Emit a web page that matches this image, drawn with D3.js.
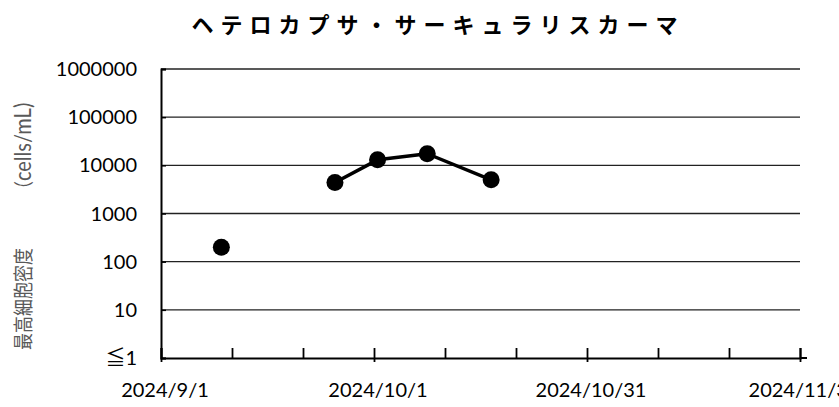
<!DOCTYPE html>
<html lang="ja">
<head>
  <meta charset="UTF-8">
  <title>ヘテロカプサ・サーキュラリスカーマ</title>
  <script src="https://d3js.org/d3.v7.min.js"></script>
  <style>
    body { margin: 0; padding: 0; overflow: hidden; background: #fff; }
    text { font-family: Lato, "Noto Sans CJK JP", sans-serif; }
  </style>
</head>
<body>
  <svg id="chart" width="839" height="407"></svg>

  <script>
    // Data
    const dates = ["2024-09-09", "2024-09-17", "2024-09-25", "2024-10-01", "2024-10-08", "2024-10-17"];
    const cells = [200, null, 4400, 13000, 17400, 5000];
    const yTicks = [1, 10, 100, 1000, 10000, 100000, 1000000];
    const yTickLabels = ["≦1", "10", "100", "1000", "10000", "100000", "1000000"];
    const xLabelDates = ["2024-09-01", "2024-10-01", "2024-10-31", "2024-11-30"];

    const parse = d3.timeParse("%Y-%m-%d");
    const points = dates.map((d, i) => ({ date: parse(d), value: cells[i] }));

    const svg = d3.select("#chart");
    const margin = { left: 161, right: 39, top: 69, bottom: 49 };
    const width = 839, height = 407;

    const x = d3.scaleTime()
      .domain([parse("2024-09-01"), parse("2024-11-30")])
      .range([margin.left, width - margin.right]);
    const y = d3.scaleLog()
      .domain([1, 1000000])
      .range([height - margin.bottom, margin.top]);

    // points sit in the middle of their day
    const px = d => x(d3.timeHour.offset(d.date, 12));

    // title
    svg.append("text")
      .attr("x", 438).attr("y", 33)
      .attr("text-anchor", "middle")
      .style("font-family", "'Noto Sans CJK JP'")
      .style("font-weight", "bold")
      .style("font-size", "22px")
      .style("letter-spacing", "7px")
      .text("ヘテロカプサ・サーキュラリスカーマ");

    // gridlines
    svg.append("g")
      .selectAll("line")
      .data(yTicks.slice(1))
      .join("line")
      .attr("x1", margin.left).attr("x2", width - margin.right)
      .attr("y1", d => y(d)).attr("y2", d => y(d))
      .attr("stroke", "#222")
      .attr("stroke-width", 1.3);

    // y axis
    const yAxis = svg.append("g")
      .attr("transform", `translate(${margin.left},0)`)
      .call(d3.axisRight(y).tickValues(yTicks).tickSize(5).tickFormat(""));
    yAxis.select(".domain").attr("stroke", "#000").attr("stroke-width", 2);
    yAxis.selectAll(".tick line").attr("stroke", "#000").attr("stroke-width", 1.5);

    svg.append("g")
      .selectAll("text")
      .data(yTicks)
      .join("text")
      .attr("x", 137)
      .attr("y", d => y(d) + 7)
      .attr("text-anchor", "end")
      .style("font-size", "20px")
      .attr("fill", "#000")
      .text((d, i) => yTickLabels[i]);

    // x axis: minor ticks every 10 days, labels every 30 days
    const tickDates = d3.timeDay.range(parse("2024-09-01"), d3.timeDay.offset(parse("2024-11-30"), 1), 10);
    const labelTimes = xLabelDates.map(d => +parse(d));
    const xAxis = svg.append("g")
      .attr("transform", `translate(0,${height - margin.bottom})`)
      .call(d3.axisTop(x).tickValues(tickDates).tickSize(10).tickFormat(""));
    xAxis.select(".domain").attr("stroke", "#000").attr("stroke-width", 2);
    xAxis.selectAll(".tick line").attr("stroke", "#000").attr("stroke-width", 1.8)
      .attr("y1", d => labelTimes.includes(+d) ? 4 : 0);
    svg.append("line")
      .attr("x1", width - margin.right).attr("x2", width - margin.right + 7)
      .attr("y1", height - margin.bottom).attr("y2", height - margin.bottom)
      .attr("stroke", "#000").attr("stroke-width", 2);

    svg.append("g")
      .selectAll("text")
      .data(xLabelDates)
      .join("text")
      .attr("x", d => x(parse(d)) + 4)
      .attr("y", 397)
      .attr("text-anchor", "middle")
      .style("font-size", "20px")
      .attr("fill", "#000")
      .text(d => d3.timeFormat("%Y/%-m/%-d")(parse(d)));

    // y axis title (glyphs a little stretched, like the source image)
    const yTitle = svg.append("text")
      .attr("transform", "translate(31,350) rotate(-90) scale(1,1.18)")
      .attr("text-anchor", "start")
      .attr("fill", "#595959");
    yTitle.append("tspan")
      .style("font-family", "'Noto Sans CJK JP'")
      .style("font-size", "17px")
      .text("最高細胞密度");
    yTitle.append("tspan")
      .attr("dx", 50)
      .style("font-family", "'Noto Sans CJK JP'")
      .style("font-size", "17px")
      .text("（");
    yTitle.append("tspan")
      .style("font-size", "20px")
      .text("cells/mL)");

    // line + markers
    const line = d3.line()
      .defined(d => d.value != null)
      .x(px)
      .y(d => y(d.value));

    svg.append("path")
      .datum(points)
      .attr("fill", "none")
      .attr("stroke", "#000")
      .attr("stroke-width", 3.5)
      .attr("stroke-linejoin", "round")
      .attr("d", line);

    svg.append("g")
      .selectAll("circle")
      .data(points.filter(d => d.value != null))
      .join("circle")
      .attr("cx", px)
      .attr("cy", d => y(d.value))
      .attr("r", 8.5)
      .attr("fill", "#000");
  </script>
</body>
</html>
